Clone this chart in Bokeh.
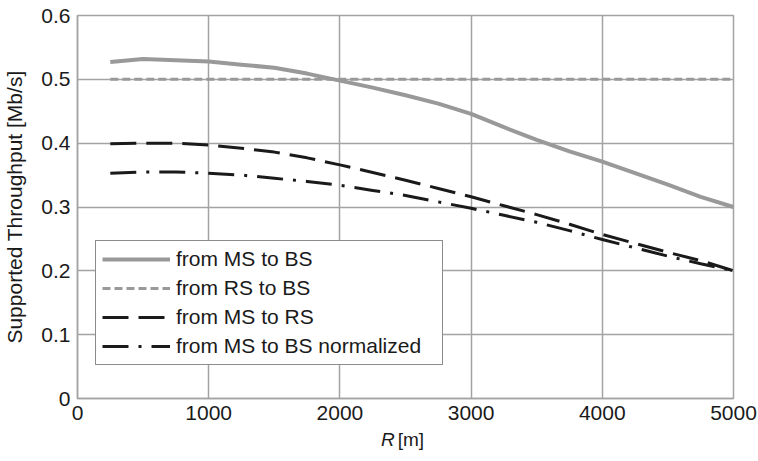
from bokeh.plotting import figure
from bokeh.models import FixedTicker
from bokeh.layouts import column
from bokeh.core.properties import value
from bokeh.embed import file_html
from bokeh.resources import INLINE

# ---- data ----
R = [250, 500, 750, 1000, 1250, 1500, 1750, 2000, 2250, 2500,
     2750, 3000, 3250, 3500, 3750, 4000, 4250, 4500, 4750, 5000]
ms_to_bs = [0.527, 0.532, 0.530, 0.528, 0.523, 0.518, 0.509, 0.498, 0.487, 0.475,
            0.462, 0.446, 0.425, 0.405, 0.387, 0.371, 0.353, 0.335, 0.316, 0.300]
rs_to_bs = [0.500] * len(R)
ms_to_rs = [0.399, 0.400, 0.400, 0.397, 0.392, 0.386, 0.377, 0.366, 0.354, 0.342,
            0.329, 0.316, 0.302, 0.288, 0.273, 0.257, 0.243, 0.229, 0.216, 0.200]
ms_to_bs_norm = [0.353, 0.355, 0.355, 0.353, 0.350, 0.345, 0.340, 0.334, 0.326, 0.318,
                 0.308, 0.298, 0.287, 0.276, 0.263, 0.249, 0.236, 0.223, 0.211, 0.200]

series_names = ["from MS to BS", "from RS to BS", "from MS to RS",
                "from MS to BS normalized"]

x_ticks = [0, 1000, 2000, 3000, 4000, 5000]
y_ticks = [0, 0.1, 0.2, 0.3, 0.4, 0.5, 0.6]
y_tick_labels = ["0", "0.1", "0.2", "0.3", "0.4", "0.5", "0.6"]

y_axis_title = "Supported Throughput [Mb/s]"
x_axis_title_var = "R"
x_axis_title_unit = "[m]"

FONT = "Liberation Sans"
TXT = "#1a1a1a"
GRID = "#a3a3a3"
GRAY = "#999999"

p = figure(width=758, height=429, x_range=(0, 5000), y_range=(0, 0.6),
           output_backend="svg", toolbar_location=None,
           min_border_left=76, min_border_right=25, min_border_top=15,
           min_border_bottom=31, background_fill_color="white",
           border_fill_color="white")

p.outline_line_color = GRID
p.outline_line_width = 1.5

p.xaxis.ticker = FixedTicker(ticks=x_ticks)
p.yaxis.ticker = FixedTicker(ticks=y_ticks)
p.yaxis.major_label_overrides = {t: l for t, l in zip(y_ticks, y_tick_labels)}

for ax in (p.xaxis, p.yaxis):
    ax.axis_line_color = GRID
    ax.axis_line_width = 1.5
    ax.major_tick_in = 0
    ax.major_tick_out = 0
    ax.minor_tick_in = 0
    ax.minor_tick_out = 0
    ax.major_label_text_font = FONT
    ax.major_label_text_font_size = "21px"
    ax.major_label_text_color = TXT
    ax.major_label_standoff = 7

p.yaxis.axis_label = y_axis_title
p.yaxis.axis_label_text_font = FONT
p.yaxis.axis_label_text_font_size = "21px"
p.yaxis.axis_label_text_font_style = "normal"
p.yaxis.axis_label_text_color = TXT
p.yaxis.axis_label_standoff = 12

p.grid.grid_line_color = GRID
p.grid.grid_line_width = 1.5

p.line(R, ms_to_bs, line_color=GRAY, line_width=4, legend_label=series_names[0])
p.line(R, rs_to_bs, line_color=GRAY, line_width=3, line_dash="8 4",
       legend_label=series_names[1])
p.line(R, ms_to_rs, line_color="#1a1a1a", line_width=3, line_dash="26 10",
       legend_label=series_names[2])
p.line(R, ms_to_bs_norm, line_color="#1a1a1a", line_width=3, line_dash="26 10 3 10",
       legend_label=series_names[3])

lg = p.legend[0]
lg.location = (18, 33)
lg.border_line_color = "#1a1a1a"
lg.border_line_width = 1.5
lg.background_fill_color = "white"
lg.background_fill_alpha = 1.0
lg.label_text_font = FONT
lg.label_text_font_size = "21px"
lg.label_text_color = TXT
lg.glyph_width = 68
lg.glyph_height = 24
lg.label_height = 24
lg.label_width = 260
lg.label_standoff = 6
lg.spacing = 5
lg.padding = 6
lg.margin = 0

# x-axis title strip (italic R + unit), sharing the x scale
p2 = figure(width=758, height=32, x_range=p.x_range, y_range=(0, 1),
            output_backend="svg", toolbar_location=None,
            x_axis_type=None, y_axis_type=None,
            min_border_left=76, min_border_right=25, min_border_top=0,
            min_border_bottom=0, background_fill_color="white",
            border_fill_color="white")
p2.outline_line_color = None
p2.grid.visible = False
p2.text(x=[2313], y=[0.70], text=[x_axis_title_var], text_font=value(FONT),
        text_font_size="19px", text_font_style="italic", text_color=TXT,
        text_baseline="alphabetic", text_align="left")
p2.text(x=[2440], y=[0.70], text=[x_axis_title_unit], text_font=value(FONT),
        text_font_size="19px", text_color=TXT,
        text_baseline="alphabetic", text_align="left")

layout = column(p, p2, spacing=0)
open("out.html", "w").write(file_html(layout, INLINE))
